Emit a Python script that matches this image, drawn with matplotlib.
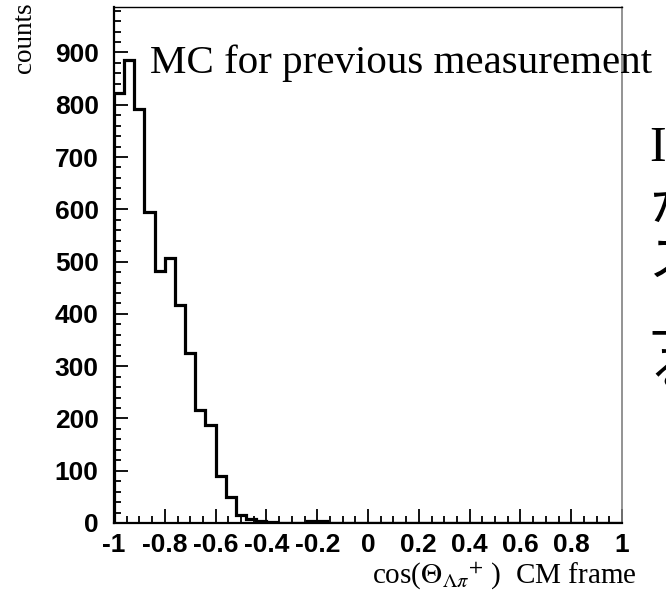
import numpy as np
import matplotlib
matplotlib.use("Agg")
import matplotlib.pyplot as plt
from matplotlib.ticker import MultipleLocator

plt.rcParams['mathtext.fontset'] = 'stix'

# histogram contents, 50 bins from -1 to 1
counts = [823, 886, 792, 595, 482, 506, 417, 326, 217, 187,
          89, 50, 15, 8, 3, 2, 0, 0, 0, 4,
          3, 0, 0, 0, 0, 0, 0, 0, 0, 0,
          0, 0, 0, 0, 0, 0, 0, 0, 0, 0,
          0, 0, 0, 0, 0, 0, 0, 0, 0, 0]
x_lo, x_hi = -1.0, 1.0
x_ticks = [-1, -0.8, -0.6, -0.4, -0.2, 0, 0.2, 0.4, 0.6, 0.8, 1]
x_ticklabels = ["-1", "-0.8", "-0.6", "-0.4", "-0.2", "0", "0.2", "0.4", "0.6", "0.8", "1"]
y_ticks = [0, 100, 200, 300, 400, 500, 600, 700, 800, 900]
side_text = ["I", "か", "ス", "上", "る"]

edges = np.linspace(x_lo, x_hi, len(counts) + 1)

fig = plt.figure(figsize=(6.66, 6.01), dpi=100)
ax = fig.add_axes([114 / 666, 78 / 601, 508 / 666, 516 / 601])

ax.stairs(counts, edges, color='black', linewidth=2.3)
ax.set_xlim(x_lo, x_hi)
ax.set_ylim(0, 987)

ax.set_xticks(x_ticks)
ax.set_xticklabels(x_ticklabels)
ax.set_yticks(y_ticks)
ax.xaxis.set_minor_locator(MultipleLocator(0.05))
ax.yaxis.set_minor_locator(MultipleLocator(20))
ax.tick_params(which='both', direction='in', top=False, right=False, width=1.3)
ax.tick_params(which='major', length=10)
ax.tick_params(which='minor', length=5)
ax.tick_params(axis='x', pad=7)
ax.tick_params(axis='y', pad=11)
for lab in ax.get_xticklabels() + ax.get_yticklabels():
    lab.set_fontfamily('Liberation Sans')
    lab.set_fontweight('bold')
    lab.set_fontsize(19)

ax.spines['left'].set_linewidth(1.6)
ax.spines['bottom'].set_linewidth(1.6)
ax.spines['top'].set_linewidth(1.0)
ax.spines['right'].set_linewidth(1.2)
ax.spines['right'].set_color('#808080')

fig.text(25 / 666, 1 - 38 / 601, "counts", rotation=90, ha='center', va='center',
         family='Liberation Serif', fontsize=19.5)
fig.text(150 / 666, 1 - 63 / 601, "MC for previous measurement", ha='left', va='center',
         family='Liberation Serif', fontsize=29.5)
fig.text(504 / 666, 1 - 576 / 601,
         r"cos($\Theta_{\Lambda\pi}{}^{+}$ )  CM frame",
         ha='center', va='center', family='Liberation Serif', fontsize=21)

# text of the slide cut off at the right edge
row_y = [149, 207, 262, 318, 372]
for s, yy in zip(side_text, row_y):
    fam = 'Liberation Serif' if s == "I" else 'Noto Sans CJK JP'
    fig.text(649 / 666, 1 - yy / 601, s, ha='left', va='center', family=fam, fontsize=36)

fig.savefig("out.png", dpi=100)
